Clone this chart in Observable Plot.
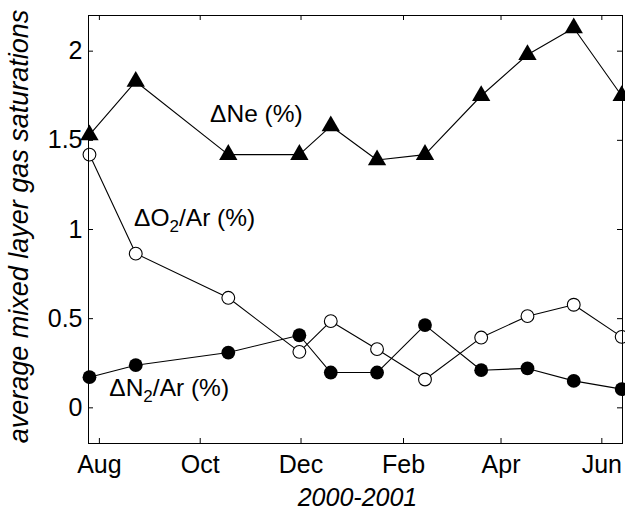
<!DOCTYPE html>
<html>
<head>
<meta charset="utf-8">
<script src="https://cdn.jsdelivr.net/npm/d3@7"></script>
<script src="https://cdn.jsdelivr.net/npm/@observablehq/plot@0.6"></script>
<style>
  body { margin: 0; background: #fff; }
  #chart svg { font-family: "Liberation Sans", Arial, Helvetica, sans-serif; }
</style>
</head>
<body>
<div id="chart"></div>
<script>
// ---- data ----
const sampleDates = ["2000-07-26","2000-08-23","2000-10-18","2000-11-30","2000-12-19","2001-01-16",
                     "2001-02-14","2001-03-20","2001-04-17","2001-05-15","2001-06-13"];
const neValues    = [1.53, 1.83, 1.42, 1.42, 1.58, 1.39, 1.42, 1.75, 1.98, 2.13, 1.75];
const o2ArValues  = [1.42, 0.865, 0.617, 0.314, 0.486, 0.329, 0.159, 0.394, 0.514, 0.578, 0.398];
const n2ArValues  = [0.172, 0.239, 0.310, 0.407, 0.198, 0.198, 0.464, 0.211, 0.221, 0.151, 0.105];

const xTickDates  = ["2000-08-01","2000-10-01","2000-12-01","2001-02-01","2001-04-01","2001-06-01"];
const xTickLabels = ["Aug","Oct","Dec","Feb","Apr","Jun"];
const yTicks      = [0, 0.5, 1, 1.5, 2];
const yTickLabels = ["0","0.5","1","1.5","2"];
const xDomain     = ["2000-07-25T10:00","2001-06-13T12:00"];
const yDomain     = [-0.2, 2.2];

const seriesLabels     = ["ΔNe (%)", "ΔO₂/Ar (%)", "ΔN₂/Ar (%)"];
const seriesLabelDates = ["2000-10-07", "2000-08-22", "2000-08-07"];
const seriesLabelVals  = [1.645, 1.065, 0.109];
const xTitle = "2000-2001";
const yTitle = "average mixed layer gas saturations";

// ---- tables built from the arrays ----
const table = sampleDates.map((d, i) => ({
  date: new Date(d), ne: neValues[i], o2: o2ArValues[i], n2: n2ArValues[i]
}));
const xTicks = xTickDates.map(d => new Date(d));
const labelTable = seriesLabels.map((t, i) => ({
  text: t, date: new Date(seriesLabelDates[i]), value: seriesLabelVals[i]
}));

const W = 625, H = 510;
const mL = 88, mR = 3, mT = 15, mB = 67;
const innerW = W - mL - mR, innerH = H - mT - mB;
const tickLen = 5;

const plot = Plot.plot({
  width: W, height: H,
  marginLeft: mL, marginRight: mR, marginTop: mT, marginBottom: mB,
  style: { fontSize: "25px", fontFamily: '"Liberation Sans", Arial, Helvetica, sans-serif', background: "#fff", color: "#000" },
  x: { type: "utc", domain: xDomain.map(d => new Date(d)) },
  y: { domain: yDomain },
  marks: [
    // inside ticks on all four sides
    Plot.ruleX(xTicks, { x: d => d, insetTop: innerH - tickLen, stroke: "#000", strokeWidth: 1 }),
    Plot.ruleX(xTicks, { x: d => d, insetBottom: innerH - tickLen, stroke: "#000", strokeWidth: 1 }),
    Plot.ruleY(yTicks, { y: d => d, insetRight: innerW - tickLen, stroke: "#000", strokeWidth: 1 }),
    Plot.ruleY(yTicks, { y: d => d, insetLeft: innerW - tickLen, stroke: "#000", strokeWidth: 1 }),
    // tick labels
    Plot.axisX(xTicks, {
      tickSize: 0, tickPadding: 12, label: null, fill: "#000",
      tickFormat: d => xTickLabels[xTicks.findIndex(t => +t === +d)]
    }),
    Plot.axisY(yTicks, {
      tickSize: 0, tickPadding: 6, label: null, fill: "#000",
      tickFormat: d => yTickLabels[yTicks.indexOf(d)]
    }),
    // series lines
    Plot.line(table, { x: "date", y: "ne", stroke: "#000", strokeWidth: 1.1 }),
    Plot.line(table, { x: "date", y: "o2", stroke: "#000", strokeWidth: 1.1 }),
    Plot.line(table, { x: "date", y: "n2", stroke: "#000", strokeWidth: 1.1 }),
    // markers
    Plot.dot(table, { x: "date", y: "ne", symbol: "triangle", r: 6.8, fill: "#000", stroke: "none" }),
    Plot.dot(table, { x: "date", y: "o2", symbol: "circle", r: 6.4, fill: "#fff", stroke: "#000", strokeWidth: 1.1 }),
    Plot.dot(table, { x: "date", y: "n2", symbol: "circle", r: 6.9, fill: "#000", stroke: "none" }),
    // series annotations
    Plot.text(labelTable, { x: "date", y: "value", text: "text", textAnchor: "start", lineAnchor: "middle", fontSize: 24.5, fill: "#000" }),
    // axis titles
    Plot.text([xTitle], { frameAnchor: "bottom", textAnchor: "middle", lineAnchor: "middle", dx: 2, dy: 54, fontSize: 25, fontStyle: "italic", fill: "#000" }),
    Plot.text([yTitle], { frameAnchor: "left", textAnchor: "middle", lineAnchor: "middle", rotate: -90, dx: -69, dy: -3, fontSize: 27, fontStyle: "italic", fill: "#000" }),
    Plot.frame({ stroke: "#000", strokeWidth: 1 })
  ]
});

// render subscripts for the ₂ characters as real subscript tspans
plot.querySelectorAll("text").forEach(t => {
  const s = t.textContent;
  if (s.includes("₂") && t.children.length === 0) {
    const parts = s.split("₂");
    t.textContent = "";
    const ns = "http://www.w3.org/2000/svg";
    const a = document.createElementNS(ns, "tspan"); a.textContent = parts[0];
    const b = document.createElementNS(ns, "tspan"); b.textContent = "2";
    b.setAttribute("dy", "6"); b.setAttribute("font-size", "17");
    const c = document.createElementNS(ns, "tspan"); c.textContent = parts[1];
    c.setAttribute("dy", "-6");
    t.append(a, b, c);
  }
});

document.getElementById("chart").appendChild(plot);
</script>
</body>
</html>
